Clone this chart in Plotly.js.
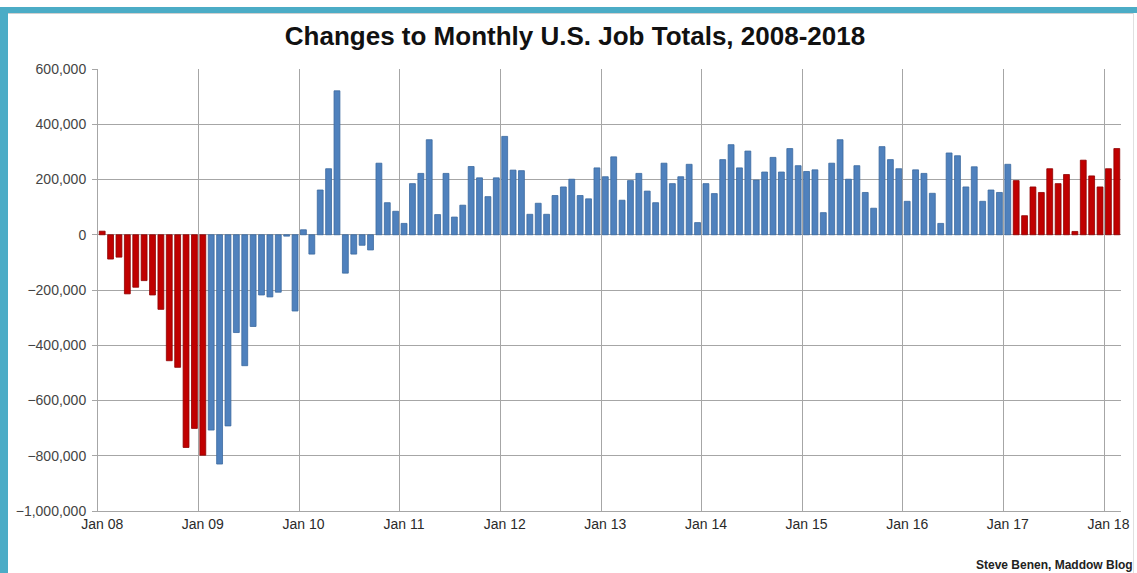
<!DOCTYPE html>
<html>
<head>
<meta charset="utf-8">
<script src="https://cdn.plot.ly/plotly-3.0.1.min.js"></script>
<style>
  html, body { margin: 0; padding: 0; background: #ffffff; }
  #wrap { position: relative; width: 1137px; height: 573px; overflow: hidden; }
  #chart { position: absolute; left: 0; top: 0; width: 1137px; height: 573px; }
  .frame { position: absolute; pointer-events: none; }
</style>
</head>
<body>
<div id="wrap">
  <div id="chart"></div>
  <div class="frame" style="left:0;top:7px;width:1137px;height:6px;background:#4BACC6;"></div>
  <div class="frame" style="left:0;top:7px;width:8px;height:566px;background:#4BACC6;"></div>
  <div class="frame" style="left:8px;top:13px;width:1125px;height:1px;background:#d0d0d0;"></div>
  <div class="frame" style="left:1133px;top:13px;width:1px;height:560px;background:#e0e0e0;"></div>
</div>
<script>
// Monthly change in U.S. payroll jobs, Jan 2008 .. Feb 2018
const y2008 = [13000, -88000, -81000, -214000, -190000, -166000, -218000, -270000, -456000, -480000, -770000, -701000];
const y2009 = [-798000, -707000, -830000, -692000, -354000, -474000, -332000, -218000, -225000, -208000, -5000, -276000];
const y2010 = [18000, -70000, 162000, 239000, 521000, -139000, -70000, -38000, -55000, 259000, 116000, 85000];
const y2011 = [41000, 185000, 222000, 344000, 73000, 222000, 64000, 107000, 247000, 206000, 138000, 206000];
const y2012 = [356000, 234000, 232000, 74000, 114000, 74000, 142000, 173000, 201000, 142000, 130000, 242000];
const y2013 = [210000, 282000, 125000, 196000, 222000, 158000, 116000, 259000, 185000, 210000, 255000, 44000];
const y2014 = [185000, 149000, 272000, 326000, 242000, 303000, 198000, 227000, 280000, 227000, 312000, 250000];
const y2015 = [229000, 235000, 80000, 259000, 344000, 201000, 250000, 153000, 96000, 319000, 272000, 239000];
const y2016 = [121000, 235000, 222000, 150000, 41000, 296000, 286000, 173000, 246000, 121000, 162000, 153000];
const y2017 = [255000, 196000, 69000, 173000, 153000, 239000, 185000, 218000, 12000, 270000, 213000, 173000];
const y2018 = [239000, 312000];

const tickLabels = ["Jan 08", "Jan 09", "Jan 10", "Jan 11", "Jan 12", "Jan 13", "Jan 14", "Jan 15", "Jan 16", "Jan 17", "Jan 18"];
const yTickValues = [600000, 400000, 200000, 0, -200000, -400000, -600000, -800000, -1000000];

// Administration for each month: Bush through Jan 2009, Obama Feb 2009 - Jan 2017, Trump from Feb 2017
const bushMonths = 13;
const obamaMonths = 96;

const values = [].concat(y2008, y2009, y2010, y2011, y2012, y2013, y2014, y2015, y2016, y2017, y2018);
const monthIndex = values.map((v, i) => i);

const RED = "#C00000", RED_EDGE = "#8E0000";
const BLUE = "#4F81BD", BLUE_EDGE = "#3B6A9F";
const fillColors = values.map((v, i) => (i < bushMonths || i >= bushMonths + obamaMonths) ? RED : BLUE);
const edgeColors = values.map((v, i) => (i < bushMonths || i >= bushMonths + obamaMonths) ? RED_EDGE : BLUE_EDGE);

const FONT = "Arial, 'Liberation Sans', sans-serif";

const trace = {
  type: "bar",
  x: monthIndex,
  y: values,
  marker: { color: fillColors, line: { color: edgeColors, width: 0.8 } },
  hoverinfo: "y"
};

const layout = {
  width: 1137,
  height: 573,
  margin: { l: 98, r: 16, t: 69, b: 62, pad: 0 },
  paper_bgcolor: "#ffffff",
  plot_bgcolor: "#ffffff",
  bargap: 0.3,
  showlegend: false,
  font: { family: FONT, color: "#333333" },
  title: {
    text: "<b>Changes to Monthly U.S. Job Totals, 2008-2018</b>",
    font: { family: FONT, size: 26, color: "#111111" },
    x: 0.5057, xref: "container", xanchor: "center",
    y: 0.938, yref: "container", yanchor: "middle"
  },
  xaxis: {
    range: [-0.5, values.length - 0.5],
    tickmode: "array",
    tickvals: tickLabels.map((t, k) => k * 12),
    ticktext: tickLabels,
    ticks: "",
    showgrid: false,
    zeroline: false,
    showline: true,
    linecolor: "#a6a6a6",
    linewidth: 1,
    tickfont: { family: FONT, size: 14, color: "#2a2a2a" },
    minor: {
      tickmode: "linear",
      tick0: -0.5,
      dtick: 12,
      showgrid: true,
      gridcolor: "#a6a6a6",
      gridwidth: 1,
      ticks: ""
    },
    fixedrange: true
  },
  yaxis: {
    range: [-1000000, 600000],
    tickmode: "array",
    tickvals: yTickValues,
    tickformat: ",d",
    ticks: "outside",
    ticklen: 5,
    tickcolor: "#a6a6a6",
    ticklabelstandoff: 3,
    showgrid: true,
    gridcolor: "#a6a6a6",
    gridwidth: 1,
    zeroline: false,
    showline: true,
    linecolor: "#a6a6a6",
    linewidth: 1,
    tickfont: { family: FONT, size: 14, color: "#444444" },
    fixedrange: true
  },
  annotations: [{
    text: "<b>Steve Benen, Maddow Blog</b>",
    xref: "paper", yref: "paper",
    x: 1, y: 0,
    xanchor: "right", yanchor: "middle",
    xshift: 14, yshift: -54,
    showarrow: false,
    font: { family: FONT, size: 12, color: "#222222" }
  }]
};

Plotly.newPlot("chart", [trace], layout, { displayModeBar: false, staticPlot: true });
</script>
</body>
</html>
